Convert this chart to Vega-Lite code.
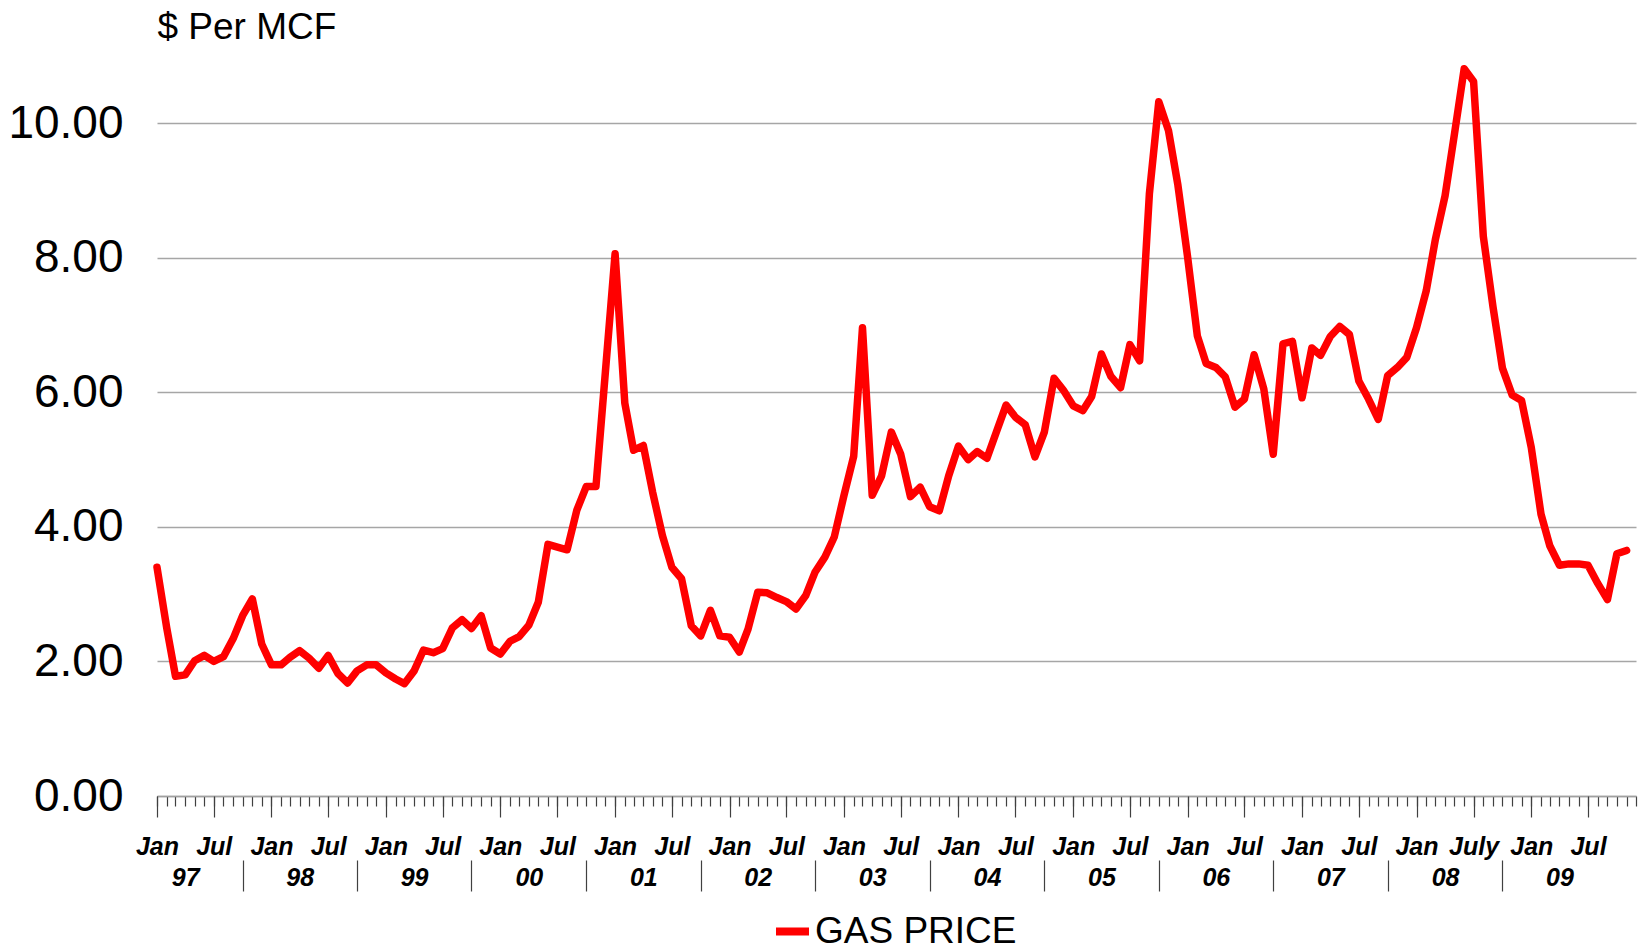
{
  "$schema": "https://vega.github.io/schema/vega-lite/v6.json",
  "width": 1479,
  "height": 740,
  "autosize": {"type": "none"},
  "padding": {"left": 157, "top": 56, "right": 5, "bottom": 155},
  "background": "white",
  "config": {"view": {"stroke": null}, "font": "Liberation Sans"},
  "data": {"values": [
    {"date":"1997-01-01","price":3.40},{"date":"1997-02-01","price":2.50},{"date":"1997-03-01","price":1.78},{"date":"1997-04-01","price":1.80},{"date":"1997-05-01","price":2.01},{"date":"1997-06-01","price":2.09},{"date":"1997-07-01","price":2.00},{"date":"1997-08-01","price":2.07},{"date":"1997-09-01","price":2.34},{"date":"1997-10-01","price":2.68},{"date":"1997-11-01","price":2.93},{"date":"1997-12-01","price":2.26},
    {"date":"1998-01-01","price":1.95},{"date":"1998-02-01","price":1.95},{"date":"1998-03-01","price":2.06},{"date":"1998-04-01","price":2.16},{"date":"1998-05-01","price":2.05},{"date":"1998-06-01","price":1.90},{"date":"1998-07-01","price":2.09},{"date":"1998-08-01","price":1.82},{"date":"1998-09-01","price":1.68},{"date":"1998-10-01","price":1.86},{"date":"1998-11-01","price":1.95},{"date":"1998-12-01","price":1.95},
    {"date":"1999-01-01","price":1.83},{"date":"1999-02-01","price":1.74},{"date":"1999-03-01","price":1.67},{"date":"1999-04-01","price":1.86},{"date":"1999-05-01","price":2.17},{"date":"1999-06-01","price":2.13},{"date":"1999-07-01","price":2.19},{"date":"1999-08-01","price":2.50},{"date":"1999-09-01","price":2.62},{"date":"1999-10-01","price":2.49},{"date":"1999-11-01","price":2.68},{"date":"1999-12-01","price":2.20},
    {"date":"2000-01-01","price":2.11},{"date":"2000-02-01","price":2.30},{"date":"2000-03-01","price":2.37},{"date":"2000-04-01","price":2.54},{"date":"2000-05-01","price":2.88},{"date":"2000-06-01","price":3.74},{"date":"2000-07-01","price":3.70},{"date":"2000-08-01","price":3.66},{"date":"2000-09-01","price":4.25},{"date":"2000-10-01","price":4.60},{"date":"2000-11-01","price":4.60},{"date":"2000-12-01","price":6.30},
    {"date":"2001-01-01","price":8.06},{"date":"2001-02-01","price":5.84},{"date":"2001-03-01","price":5.14},{"date":"2001-04-01","price":5.21},{"date":"2001-05-01","price":4.51},{"date":"2001-06-01","price":3.87},{"date":"2001-07-01","price":3.40},{"date":"2001-08-01","price":3.23},{"date":"2001-09-01","price":2.53},{"date":"2001-10-01","price":2.38},{"date":"2001-11-01","price":2.76},{"date":"2001-12-01","price":2.38},
    {"date":"2002-01-01","price":2.36},{"date":"2002-02-01","price":2.14},{"date":"2002-03-01","price":2.48},{"date":"2002-04-01","price":3.03},{"date":"2002-05-01","price":3.02},{"date":"2002-06-01","price":2.95},{"date":"2002-07-01","price":2.89},{"date":"2002-08-01","price":2.78},{"date":"2002-09-01","price":2.98},{"date":"2002-10-01","price":3.33},{"date":"2002-11-01","price":3.55},{"date":"2002-12-01","price":3.85},
    {"date":"2003-01-01","price":4.47},{"date":"2003-02-01","price":5.05},{"date":"2003-03-01","price":6.96},{"date":"2003-04-01","price":4.47},{"date":"2003-05-01","price":4.76},{"date":"2003-06-01","price":5.41},{"date":"2003-07-01","price":5.08},{"date":"2003-08-01","price":4.45},{"date":"2003-09-01","price":4.59},{"date":"2003-10-01","price":4.30},{"date":"2003-11-01","price":4.24},{"date":"2003-12-01","price":4.76},
    {"date":"2004-01-01","price":5.20},{"date":"2004-02-01","price":5.00},{"date":"2004-03-01","price":5.12},{"date":"2004-04-01","price":5.02},{"date":"2004-05-01","price":5.41},{"date":"2004-06-01","price":5.81},{"date":"2004-07-01","price":5.63},{"date":"2004-08-01","price":5.52},{"date":"2004-09-01","price":5.04},{"date":"2004-10-01","price":5.41},{"date":"2004-11-01","price":6.21},{"date":"2004-12-01","price":6.03},
    {"date":"2005-01-01","price":5.80},{"date":"2005-02-01","price":5.73},{"date":"2005-03-01","price":5.94},{"date":"2005-04-01","price":6.57},{"date":"2005-05-01","price":6.24},{"date":"2005-06-01","price":6.07},{"date":"2005-07-01","price":6.71},{"date":"2005-08-01","price":6.47},{"date":"2005-09-01","price":8.95},{"date":"2005-10-01","price":10.32},{"date":"2005-11-01","price":9.89},{"date":"2005-12-01","price":9.08},
    {"date":"2006-01-01","price":8.01},{"date":"2006-02-01","price":6.84},{"date":"2006-03-01","price":6.43},{"date":"2006-04-01","price":6.37},{"date":"2006-05-01","price":6.23},{"date":"2006-06-01","price":5.78},{"date":"2006-07-01","price":5.90},{"date":"2006-08-01","price":6.56},{"date":"2006-09-01","price":6.05},{"date":"2006-10-01","price":5.08},{"date":"2006-11-01","price":6.72},{"date":"2006-12-01","price":6.76},
    {"date":"2007-01-01","price":5.92},{"date":"2007-02-01","price":6.66},{"date":"2007-03-01","price":6.55},{"date":"2007-04-01","price":6.83},{"date":"2007-05-01","price":6.98},{"date":"2007-06-01","price":6.86},{"date":"2007-07-01","price":6.17},{"date":"2007-08-01","price":5.90},{"date":"2007-09-01","price":5.60},{"date":"2007-10-01","price":6.25},{"date":"2007-11-01","price":6.37},{"date":"2007-12-01","price":6.52},
    {"date":"2008-01-01","price":6.96},{"date":"2008-02-01","price":7.51},{"date":"2008-03-01","price":8.27},{"date":"2008-04-01","price":8.92},{"date":"2008-05-01","price":9.84},{"date":"2008-06-01","price":10.81},{"date":"2008-07-01","price":10.62},{"date":"2008-08-01","price":8.32},{"date":"2008-09-01","price":7.27},{"date":"2008-10-01","price":6.36},{"date":"2008-11-01","price":5.96},{"date":"2008-12-01","price":5.88},
    {"date":"2009-01-01","price":5.18},{"date":"2009-02-01","price":4.19},{"date":"2009-03-01","price":3.72},{"date":"2009-04-01","price":3.43},{"date":"2009-05-01","price":3.45},{"date":"2009-06-01","price":3.45},{"date":"2009-07-01","price":3.43},{"date":"2009-08-01","price":3.16},{"date":"2009-09-01","price":2.92},{"date":"2009-10-01","price":3.60},{"date":"2009-11-01","price":3.65}
  ]},
  "encoding": {
    "y": {
      "field": "price", "type": "quantitative",
      "scale": {"domain": [0, 11], "nice": false, "zero": true},
      "axis": {
        "values": [0, 2, 4, 6, 8, 10], "format": ".2f",
        "labelFontSize": 46, "labelColor": "black", "labelPadding": 34,
        "ticks": false, "domain": false,
        "grid": true, "gridColor": "#a6a6a6", "gridWidth": 1.3,
        "title": "$ Per MCF", "titleAngle": 0, "titleAlign": "left", "titleBaseline": "alphabetic",
        "titleX": 0, "titleY": -18, "titleFontSize": 37, "titleFontWeight": "normal", "titleColor": "black"
      }
    }
  },
  "layer": [
    {
      "mark": {"type": "line", "strokeWidth": 7.5, "strokeJoin": "round", "strokeCap": "round"},
      "encoding": {
        "x": {
          "field": "date", "type": "temporal",
          "scale": {"type": "utc", "domain": [{"year": 1997, "month": 1, "date": 1, "utc": true}, {"year": 2009, "month": 12, "date": 1, "utc": true}]},
          "axis": {
            "orient": "bottom", "tickCount": {"interval": "month", "step": 1},
            "tickSize": 10, "tickColor": "#404040", "tickWidth": 1.2,
            "labels": false, "domain": true, "domainColor": "#a0a0a0", "domainWidth": 1.3,
            "grid": false, "title": null
          }
        },
        "color": {
          "datum": "GAS PRICE", "type": "nominal",
          "scale": {"range": ["#ff0000"]},
          "legend": {
            "orient": "none", "legendX": 615, "legendY": 855, "title": null,
            "symbolType": "stroke", "symbolSize": 1089, "symbolStrokeWidth": 8,
            "labelFontSize": 37, "labelColor": "black", "labelOffset": 2, "labelLimit": 600
          }
        }
      }
    },
    {
      "mark": {"type": "line", "opacity": 0},
      "encoding": {
        "x": {
          "field": "date", "type": "temporal",
          "scale": {"type": "utc", "domain": [{"year": 1997, "month": 1, "date": 1, "utc": true}, {"year": 2009, "month": 12, "date": 1, "utc": true}]},
          "axis": {
            "orient": "bottom", "tickCount": {"interval": "month", "step": 6},
            "tickSize": 21, "tickColor": "#404040", "tickWidth": 1.2,
            "domain": false, "grid": false, "title": null,
            "labelExpr": "utcmonth(datum.value) == 0 ? 'Jan' : (utcyear(datum.value) == 2008 ? 'July' : 'Jul')",
            "labelFontSize": 25, "labelFontStyle": "italic", "labelFontWeight": "bold", "labelColor": "black",
            "labelBaseline": "alphabetic", "labelPadding": 37, "labelAlign": "center",
            "labelOverlap": false, "labelFlush": false
          }
        }
      }
    },
    {
      "mark": {"type": "line", "opacity": 0},
      "encoding": {
        "x": {
          "field": "date", "type": "temporal",
          "scale": {"type": "utc", "domain": [{"year": 1997, "month": 1, "date": 1, "utc": true}, {"year": 2009, "month": 12, "date": 1, "utc": true}]},
          "axis": {
            "orient": "bottom",
            "values": [
              {"year": 1997, "month": 4, "date": 1, "utc": true}, {"year": 1998, "month": 4, "date": 1, "utc": true},
              {"year": 1999, "month": 4, "date": 1, "utc": true}, {"year": 2000, "month": 4, "date": 1, "utc": true},
              {"year": 2001, "month": 4, "date": 1, "utc": true}, {"year": 2002, "month": 4, "date": 1, "utc": true},
              {"year": 2003, "month": 4, "date": 1, "utc": true}, {"year": 2004, "month": 4, "date": 1, "utc": true},
              {"year": 2005, "month": 4, "date": 1, "utc": true}, {"year": 2006, "month": 4, "date": 1, "utc": true},
              {"year": 2007, "month": 4, "date": 1, "utc": true}, {"year": 2008, "month": 4, "date": 1, "utc": true},
              {"year": 2009, "month": 4, "date": 1, "utc": true}
            ],
            "ticks": false, "tickSize": 0, "domain": false, "grid": false, "title": null,
            "labelExpr": "utcFormat(datum.value, '%y')",
            "labelFontSize": 25, "labelFontStyle": "italic", "labelFontWeight": "bold", "labelColor": "black",
            "labelBaseline": "alphabetic", "labelPadding": 89.5, "labelAlign": "center",
            "labelOverlap": false, "labelFlush": false
          }
        }
      }
    },
    {
      "mark": {"type": "line", "opacity": 0},
      "encoding": {
        "x": {
          "field": "date", "type": "temporal",
          "scale": {"type": "utc", "domain": [{"year": 1997, "month": 1, "date": 1, "utc": true}, {"year": 2009, "month": 12, "date": 1, "utc": true}]},
          "axis": {
            "orient": "bottom", "offset": 64,
            "values": [
              {"year": 1997, "month": 10, "date": 1, "utc": true}, {"year": 1998, "month": 10, "date": 1, "utc": true},
              {"year": 1999, "month": 10, "date": 1, "utc": true}, {"year": 2000, "month": 10, "date": 1, "utc": true},
              {"year": 2001, "month": 10, "date": 1, "utc": true}, {"year": 2002, "month": 10, "date": 1, "utc": true},
              {"year": 2003, "month": 10, "date": 1, "utc": true}, {"year": 2004, "month": 10, "date": 1, "utc": true},
              {"year": 2005, "month": 10, "date": 1, "utc": true}, {"year": 2006, "month": 10, "date": 1, "utc": true},
              {"year": 2007, "month": 10, "date": 1, "utc": true}, {"year": 2008, "month": 10, "date": 1, "utc": true}
            ],
            "tickSize": 31, "tickColor": "#404040", "tickWidth": 1.2,
            "labels": false, "domain": false, "grid": false, "title": null
          }
        }
      }
    }
  ],
  "resolve": {"axis": {"x": "independent"}}
}
